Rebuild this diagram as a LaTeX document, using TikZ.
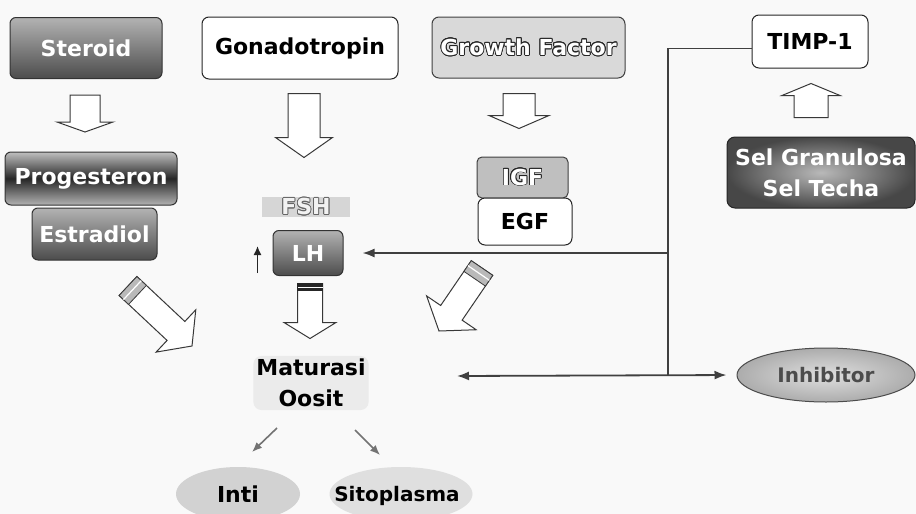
\documentclass[tikz,border=0pt]{standalone}
\usepackage{fontspec}
\setmainfont{DejaVu Sans}
\usepackage{contour}
\contourlength{0.8pt}
\usetikzlibrary{calc,arrows.meta,shapes.geometric}

% hollow block arrow: tail, tip, half shaft width, half head width, head length
\newcommand\blockarrow[5]{%
  \coordinate (ba-h) at ($(#2)!#5!(#1)$);
  \draw[hollowarrow] ($(#1)!#3!90:(#2)$) -- ($(ba-h)!#3!90:(#2)$)
    -- ($(ba-h)!#4!90:(#2)$) -- (#2) -- ($(ba-h)!#4!-90:(#2)$)
    -- ($(ba-h)!#3!-90:(#2)$) -- ($(#1)!#3!-90:(#2)$) -- cycle;}

% shaded cap at the tail of a block arrow: [style] tail, tip, half width, depth, stripe position
\newcommand\arrowcap[6][capfill]{%
  \coordinate (bc-c) at ($(#2)!#5!(#3)$);
  \coordinate (bc-m) at ($(#2)!#6!(#3)$);
  \filldraw[#1] ($(#2)!#4!90:(#3)$) -- ($(bc-c)!#4!90:(#3)$)
    -- ($(bc-c)!#4!-90:(#3)$) -- ($(#2)!#4!-90:(#3)$) -- cycle;
  \draw[white, line width=1.2pt] ($(bc-m)!#4!90:(#3)$) -- ($(bc-m)!#4!-90:(#3)$);}

\tikzset{
  lbl/.style={font=\fontsize{22}{31}\selectfont\bfseries, inner sep=0pt},
  darkbox/.style={lbl, rounded corners=6pt, draw=black!80, line width=1pt,
    text=white, top color=gray!60, bottom color=black!70},
  progbox/.style={lbl, rounded corners=6pt, draw=black!80, line width=1pt,
    text=white, top color=gray!50, bottom color=gray!60, middle color=black!85},
  whitebox/.style={lbl, rounded corners=7pt, draw=black!85, line width=1pt,
    fill=white, text=black},
  lightbox/.style={lbl, rounded corners=7pt, draw=black!75, line width=1pt,
    fill=gray!30, text=white},
  igfbox/.style={lbl, rounded corners=5pt, draw=black!75, line width=1pt,
    fill=gray!50, text=white},
  fshbox/.style={lbl, fill=gray!32, text=gray!10},
  selbox/.style={lbl, rounded corners=8pt, draw=black!85, line width=1pt,
    inner color=gray!55, outer color=black!72, text=white, align=center},
  matbox/.style={lbl, fill=gray!16, rounded corners=8pt, inner sep=3pt,
    align=center, text=black},
  oval/.style={ellipse, inner sep=0pt},
  hollowarrow/.style={fill=white, draw=black!78, line width=1pt, line join=miter},
  capfill/.style={fill=gray!55, draw=black!78, line width=0.8pt},
  capdark/.style={fill=black!85, draw=black!85, line width=0.8pt},
  trunk/.style={draw=black!75, line width=1.8pt},
  tip/.style={-{Latex[length=12pt,width=9pt]}},
  twotips/.style={{Latex[length=12pt,width=9pt]}-{Latex[length=12pt,width=9pt]}},
  smallarr/.style={draw=black!55, line width=1.6pt, -{Latex[length=10pt,width=8pt]}},
}

\begin{document}
\begin{tikzpicture}[x=1pt,y=-1pt]
\useasboundingbox (0,0) rectangle (916,514);
\fill[gray!5] (0,0) rectangle (916,514);

% hormone sources
\node[darkbox, minimum width=152pt, minimum height=61pt] (steroid) at (86,48) {Steroid};
\node[whitebox, minimum width=196pt, minimum height=62pt] (gonad) at (300,48) {Gonadotropin};
\node[lightbox, minimum width=193pt, minimum height=61pt] (growth) at (528.5,47.5) {\contour{black!85}{Growth Factor}};
\node[whitebox, minimum width=116pt, minimum height=53pt] (timp) at (810,41.5) {TIMP-1};

% products
\node[progbox, minimum width=172pt, minimum height=53pt] (prog) at (91,178.5) {Progesteron};
\node[darkbox, minimum width=125pt, minimum height=52pt] (estr) at (94.5,234) {Estradiol};
\node[fshbox, minimum width=88pt, minimum height=20pt] (fsh) at (306,207) {\contour{black!60}{FSH}};
\node[darkbox, minimum width=70pt, minimum height=45pt] (lh) at (308,253) {LH};
\node[igfbox, minimum width=91pt, minimum height=41pt] (igf) at (522.5,177.5) {\contour{black!85}{IGF}};
\node[whitebox, minimum width=94pt, minimum height=47pt] (egf) at (525,221.5) {EGF};
\node[selbox, minimum width=188pt, minimum height=71pt] (sel) at (821,172.5) {Sel Granulosa\\Sel Techa};

% targets
\node[matbox] (mat) at (311,383) {Maturasi\\Oosit};
\node[oval, fill=gray!35, minimum width=124pt, minimum height=54pt] (inti) at (238,494) {};
\node[lbl] (intitxt) at (inti) {Inti};
\node[oval, fill=gray!25, minimum width=143pt, minimum height=54pt] (sito) at (401,494) {};
\node[lbl, font=\fontsize{20}{24}\selectfont\bfseries] (sitotxt) at ($(sito)+(-4,2)$) {Sitoplasma};
\node[oval, draw=black!70, line width=1pt, inner color=gray!25, outer color=gray!65,
      minimum width=178pt, minimum height=54pt] (inh) at (826,375) {};
\node[lbl, font=\fontsize{20}{24}\selectfont\bfseries, text=black!70] (inhtxt) at (inh) {Inhibitor};

% block arrow end points
\coordinate (a1t) at ($(steroid.south)+(-1,16)$);
\coordinate (a1p) at ($(steroid.south)+(-1,53)$);
\coordinate (a2t) at ($(gonad.south)+(4,14)$);
\coordinate (a2p) at ($(gonad.south)+(4,78)$);
\coordinate (a3t) at ($(growth.south)+(-9.5,15)$);
\coordinate (a3p) at ($(growth.south)+(-9.5,50)$);
\coordinate (a4t) at ($(sel.north)+(-10,-19)$);
\coordinate (a4p) at ($(timp.south)+(1,15)$);
\coordinate (a5t) at ($(lh.south)+(2,7.5)$);
\coordinate (a5p) at ($(lh.south)+(2,62.5)$);
\coordinate (a6t) at (128,286);
\coordinate (a6p) at (192,346);
\coordinate (a7t) at (482,268);
\coordinate (a7p) at (439,331);

\blockarrow{a1t}{a1p}{15pt}{28pt}{10pt}
\blockarrow{a2t}{a2p}{16pt}{28.5pt}{20pt}
\blockarrow{a3t}{a3p}{16pt}{30pt}{13pt}
\blockarrow{a4t}{a4p}{17pt}{29pt}{12pt}
\blockarrow{a5t}{a5p}{12.5pt}{26pt}{16pt}
\blockarrow{a6t}{a6p}{13pt}{29pt}{22pt}
\blockarrow{a7t}{a7p}{13pt}{30pt}{22pt}
\arrowcap[capdark]{a5t}{a5p}{12.5pt}{7pt}{4pt}
\arrowcap{a6t}{a6p}{13pt}{13pt}{6pt}
\arrowcap{a7t}{a7p}{13pt}{13pt}{6pt}

% TIMP-1 feedback lines
\coordinate (t0) at ($(timp.west)+(0,7)$);
\coordinate (jtop) at (668,48.5);
\coordinate (jlh) at (668,253);
\coordinate (jbot) at (668,376);
\coordinate (matR) at (457,376);
\draw[trunk] (t0) -- (jtop) -- (jbot);
\draw[trunk, tip, shorten >=19pt] (jlh) -- (lh.east);
\draw[trunk, twotips, shorten >=10pt] (matR) -- (inh.west);

% small arrows
\coordinate (u1) at ($(lh.west)+(-15,20)$);
\coordinate (u2) at ($(lh.west)+(-15,-7)$);
\draw[draw=black!85, line width=1.5pt, -{Latex[length=9pt,width=8pt]}] (u1) -- (u2);
\coordinate (m1s) at (277,428);
\coordinate (m1e) at (252,452);
\coordinate (m2s) at (355,430);
\coordinate (m2e) at (380,455);
\draw[smallarr] (m1s) -- (m1e);
\draw[smallarr] (m2s) -- (m2e);
\end{tikzpicture}
\end{document}
